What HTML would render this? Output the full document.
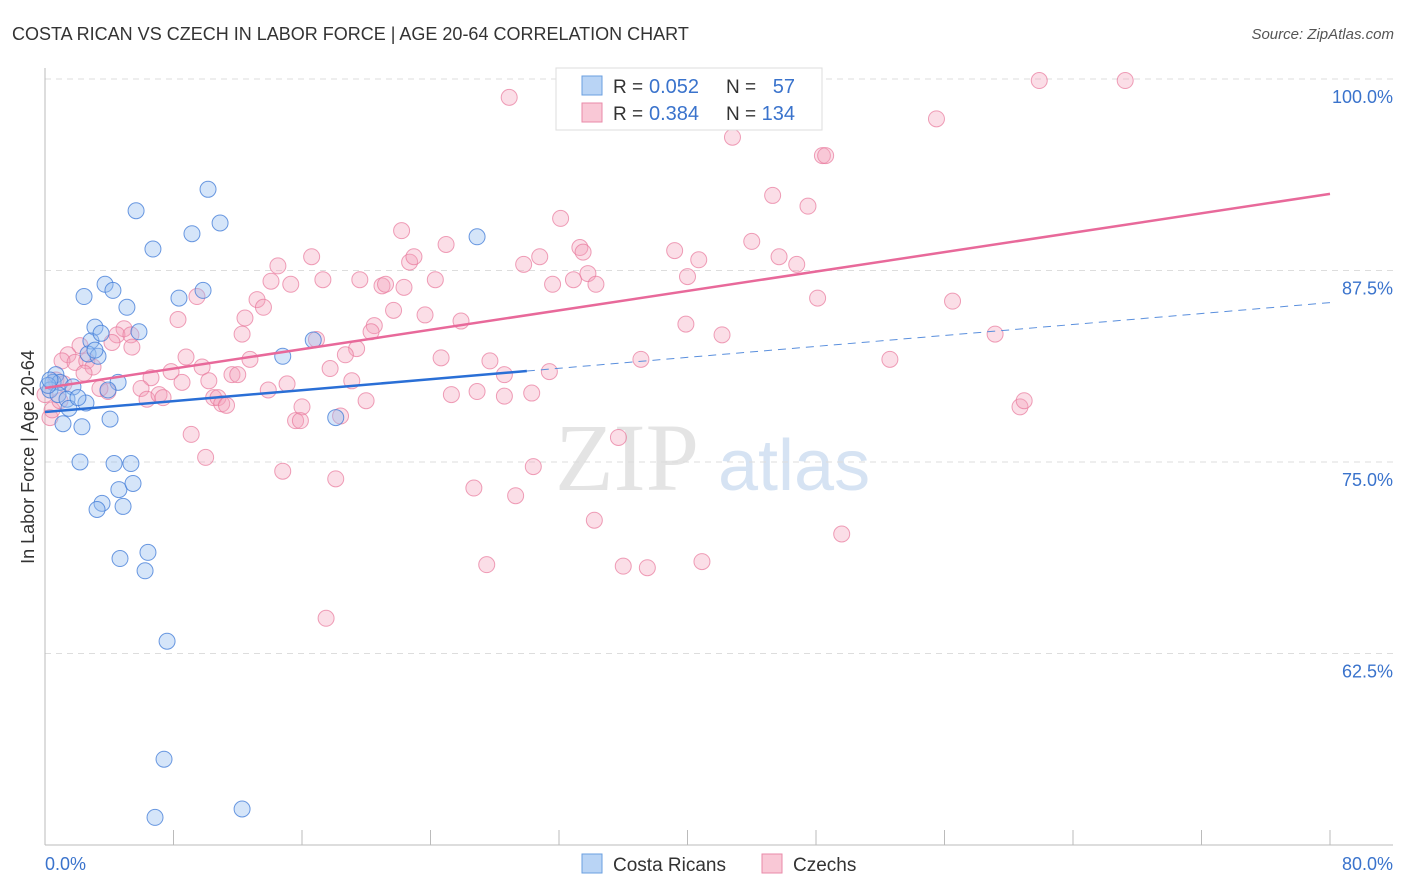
<!DOCTYPE html>
<html><head><meta charset="utf-8"><style>
body{margin:0;background:#fff;font-family:"Liberation Sans",sans-serif;}
#wrap{position:relative;width:1406px;height:892px;overflow:hidden;}
</style></head><body>
<div id="wrap">
<svg id="chart" width="1406" height="892" xmlns="http://www.w3.org/2000/svg">
<text x="12" y="40" font-size="18" fill="#333">COSTA RICAN VS CZECH IN LABOR FORCE | AGE 20-64 CORRELATION CHART</text>
<text x="1394" y="39" font-size="15" fill="#555" font-style="italic" text-anchor="end">Source: ZipAtlas.com</text>
<text x="555" y="490" font-size="96" fill="#e4e4e4" font-family="Liberation Serif,serif">ZIP</text>
<text x="718" y="490" font-size="72" fill="#d6e3f3">atlas</text>
<g id="grid"></g>
<g id="axes"></g>
<g id="pts"></g>
<g id="lines"></g>
<text transform="translate(34,457) rotate(-90)" font-size="18" fill="#333" text-anchor="middle">In Labor Force | Age 20-64</text>
<g>
<rect x="556" y="68" width="266" height="62" fill="#fff" stroke="#ddd"/>
<rect x="582" y="76" width="20" height="19" fill="#b9d4f5" stroke="#6a9fe0"/>
<rect x="582" y="103" width="20" height="19" fill="#f9c8d6" stroke="#e98aa8"/>
<text x="613" y="93" font-size="19" fill="#333">R = </text>
<text x="649" y="93" font-size="20" fill="#3a73cc">0.052</text>
<text x="726" y="93" font-size="19" fill="#333">N =</text>
<text x="795" y="93" font-size="20" fill="#3a73cc" text-anchor="end">57</text>
<text x="613" y="120" font-size="19" fill="#333">R = </text>
<text x="649" y="120" font-size="20" fill="#3a73cc">0.384</text>
<text x="726" y="120" font-size="19" fill="#333">N =</text>
<text x="795" y="120" font-size="20" fill="#3a73cc" text-anchor="end">134</text>
</g>
<g>
<rect x="582" y="854" width="20" height="19" fill="#b9d4f5" stroke="#6a9fe0"/>
<text x="613" y="871" font-size="19" fill="#333">Costa Ricans</text>
<rect x="762" y="854" width="20" height="19" fill="#f9c8d6" stroke="#e98aa8"/>
<text x="793" y="871" font-size="19" fill="#333">Czechs</text>
</g>
</svg>
</div>
<script>
const yTicks=[100,87.5,75,62.5];
const yTickLabels=["100.0%","87.5%","75.0%","62.5%"];
const xTicks=[0,8,16,24,32,40,48,56,64,72,80];
const xLabels=["0.0%","80.0%"];
const blueX=[5.67,10.15,10.9,9.15,6.72,26.9,2.43,3.74,4.23,5.1,8.34,9.84,3.11,5.85,2.86,3.49,2.68,3.3,14.8,16.7,0.68,0.5,0.93,1.74,0.31,0.81,1.37,2.55,1.49,4.55,3.92,1.12,2.3,4.05,2.18,4.3,5.35,4.6,5.48,3.55,3.24,4.86,6.41,4.67,6.23,7.6,7.41,6.85,12.27,18.1,0.19,2.05,3.11,0.31];
const blueY=[91.4,92.8,90.6,89.9,88.9,89.7,85.8,86.6,86.2,85.1,85.7,86.2,83.8,83.5,82.9,83.4,82.05,81.9,81.9,82.96,80.7,80.2,80.2,79.9,79.7,79.4,79.1,78.85,78.5,80.2,79.7,77.5,77.3,77.8,75.0,74.9,74.9,73.2,73.6,72.3,71.9,72.1,69.1,68.7,67.9,63.3,55.6,51.8,52.35,77.9,80.0,79.2,82.3,80.35];
const pinkX=[28.9,41.66,61.9,67.25,55.5,42.8,48.4,48.6,45.3,47.5,32.1,22.2,24.97,30.8,33.3,33.5,39.2,44.0,40.7,45.7,46.8,29.8,22.7,22.97,16.6,14.5,17.3,14.07,15.3,19.6,20.98,21.2,22.35,24.3,31.6,32.9,33.8,34.3,40.0,48.1,56.5,13.2,13.6,9.46,12.45,12.27,8.28,21.7,23.66,25.9,20.5,20.3,16.9,19.4,18.7,39.9,42.15,59.15,4.92,4.48,5.35,4.17,5.41,2.18,1.43,1.06,1.87,2.6,2.99,2.43,8.78,9.78,7.85,6.6,8.53,12.76,11.64,12.0,10.2,15.07,17.75,19.1,24.66,27.7,28.6,31.4,37.1,52.6,3.92,5.98,6.35,7.1,7.35,10.5,10.77,11.0,11.3,13.9,16.0,15.6,15.9,18.4,19.99,25.3,26.9,28.6,30.3,60.7,60.96,0.31,9.1,35.7,10.0,14.8,18.1,30.4,26.7,29.3,34.2,49.6,27.5,36.0,37.5,40.9,17.5,0.44,0.68,1.18,0,0.93,3.42];
const pinkY=[98.8,99.8,99.9,99.9,97.4,96.2,95.0,95.0,92.4,91.7,90.9,90.1,89.2,88.4,89.0,88.7,88.8,89.4,88.2,88.4,87.9,87.9,88.05,88.4,88.4,87.8,86.9,86.8,86.6,86.9,86.5,86.6,86.4,86.9,86.6,86.9,87.3,86.6,87.1,85.7,85.5,85.6,85.1,85.8,84.4,83.35,84.3,84.9,84.6,84.2,83.9,83.5,83.0,82.4,82.0,84.0,83.3,83.35,83.7,83.3,83.3,82.8,82.5,82.6,82.0,81.6,81.5,81.6,81.2,80.8,81.85,81.2,80.9,80.5,80.2,81.7,80.7,80.7,80.3,80.1,81.1,80.3,81.8,81.6,80.7,80.9,81.7,81.7,79.6,79.8,79.1,79.4,79.2,79.2,79.2,78.8,78.7,79.7,78.6,77.7,77.7,78.0,79.0,79.4,79.6,79.3,79.5,78.6,79.0,77.9,76.8,76.6,75.3,74.4,73.9,74.7,73.3,72.8,71.2,70.3,68.3,68.2,68.1,68.5,64.8,78.4,80.35,80.1,79.4,79.0,79.8];
const blueFit=[78.26,0.0893];
const pinkFit=[79.83,0.1584];

const NS="http://www.w3.org/2000/svg";
const X0=45,X1=1330,Y0=845,Y1=79;
function sx(v){return X0+(v/80)*(X1-X0);}
function sy(v){return Y1+(100-v)/50*(Y0-Y1);}
function mk(tag,attrs,parent){const e=document.createElementNS(NS,tag);for(const k in attrs)e.setAttribute(k,attrs[k]);parent.appendChild(e);return e;}
const grid=document.getElementById('grid'),axes=document.getElementById('axes'),pts=document.getElementById('pts'),lines=document.getElementById('lines');
yTicks.forEach((t,i)=>{
  const l=mk('line',{x1:X0,x2:1393,y1:sy(t),y2:sy(t),stroke:'#ddd','stroke-dasharray':'6,5'},grid);
  
  
  const tx=mk('text',{x:1393,y:sy(t)+24,'font-size':18,fill:'#3a73cc','text-anchor':'end'},axes);
  tx.textContent=yTickLabels[i];
  
  
});
let a=mk('line',{x1:X0,x2:X0,y1:68,y2:Y0,stroke:'#bbb'},axes);


a=mk('line',{x1:X0,x2:1393,y1:Y0,y2:Y0,stroke:'#bbb'},axes);


xTicks.forEach(t=>{
  const l=mk('line',{x1:sx(t),x2:sx(t),y1:830,y2:Y0,stroke:'#bbb'},axes);
  
  
});
let t1=mk('text',{x:45,y:870,'font-size':18,fill:'#3a73cc'},axes);t1.textContent=xLabels[0];


let t2=mk('text',{x:1393,y:870,'font-size':18,fill:'#3a73cc','text-anchor':'end'},axes);t2.textContent=xLabels[1];


pinkX.forEach((v,i)=>{
  const c=mk('circle',{cx:sx(v),cy:sy(pinkY[i]),r:8,fill:'rgba(244,160,187,0.35)',stroke:'rgba(232,120,155,0.7)','stroke-width':1},pts);
  
  
});
blueX.forEach((v,i)=>{
  const c=mk('circle',{cx:sx(v),cy:sy(blueY[i]),r:8,fill:'rgba(150,190,240,0.4)',stroke:'rgba(60,120,215,0.75)','stroke-width':1},pts);
  
  
});
let L=mk('line',{x1:sx(0),y1:sy(blueFit[0]),x2:sx(30),y2:sy(blueFit[0]+30*blueFit[1]),stroke:'#2a6fd6','stroke-width':2.5},lines);


L=mk('line',{x1:sx(30),y1:sy(blueFit[0]+30*blueFit[1]),x2:sx(80),y2:sy(blueFit[0]+80*blueFit[1]),stroke:'#5a8fdd','stroke-width':1,'stroke-dasharray':'8,6'},lines);


L=mk('line',{x1:sx(0),y1:sy(pinkFit[0]),x2:sx(80),y2:sy(pinkFit[0]+80*pinkFit[1]),stroke:'#e8699a','stroke-width':2.5},lines);


</script>
</body></html>
